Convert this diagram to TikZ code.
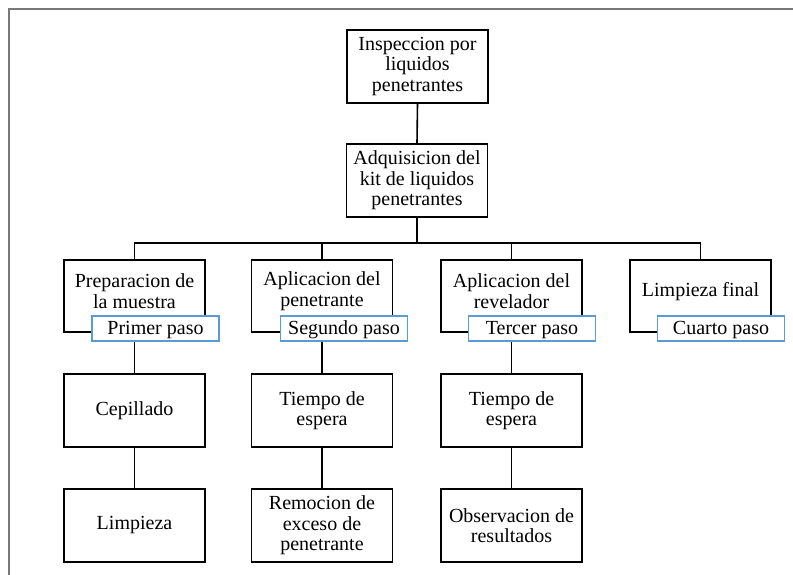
\documentclass[tikz,border=0pt]{standalone}
\usepackage{fontspec}
\setmainfont{Liberation Serif}
\definecolor{labelblue}{RGB}{91,155,213}
\definecolor{framegray}{RGB}{120,120,120}
\begin{document}
\begin{tikzpicture}[x=1pt,y=-1pt,
  txt/.style={font=\fontsize{20}{20.5}\selectfont, align=center, text=black},
  box/.style={draw=black, line width=1.6pt, fill=white, minimum width=141pt, minimum height=73pt, inner sep=0pt, txt},
  tallbox/.style={draw=black, line width=1.6pt, fill=white, minimum width=141pt, minimum height=72pt, inner sep=0pt},
  stepbox/.style={draw=labelblue, line width=1.5pt, fill=white, minimum width=127pt, minimum height=25pt, inner sep=0pt, text height=14pt, text depth=3pt, txt},
  conn/.style={draw=black, line width=1.6pt}
]
\useasboundingbox (0,0) rectangle (793,575);
\fill[white] (0,0) rectangle (793,575);
\draw[framegray, line width=1.5pt] (9,575) -- (9,9) -- (793,9);

% top boxes
\node[box] (top) at (417.5,66.5) {Inspeccion por\\liquidos\\penetrantes};
\node[box] (kit) at (417,180.5) {Adquisicion del\\kit de liquidos\\penetrantes};
\coordinate (bus) at (417,243);

% level 2 boxes
\node[tallbox] (a) at (134.5,296) {};
\node[tallbox] (b) at (322,296) {};
\node[tallbox] (c) at (511.5,296) {};
\node[tallbox] (d) at (700.5,296) {};
\node[txt] (ta) at (134.5,291) {Preparacion de\\la muestra};
\node[txt] (tb) at (322,291) {Aplicacion del\\penetrante};
\node[txt] (tc) at (511.5,291) {Aplicacion del\\revelador};
\node[txt] (td) at (700.5,292) {Limpieza final};

% level 3 and 4
\node[box] (a3) at (134.5,410.5) {Cepillado};
\node[box] (b3) at (322,410.5) {Tiempo de\\espera};
\node[box] (c3) at (511.5,410.5) {Tiempo de\\espera};
\node[box] (a4) at (134.5,525.5) {Limpieza};
\node[box] (b4) at (322,525.5) {Remocion de\\exceso de\\penetrante};
\node[box] (c4) at (511.5,525.5) {Observacion de\\resultados};

% connectors
\draw[conn] (top.south) -- (kit.north);
\draw[conn] (kit.south) -- (bus);
\draw[conn] (a.north) |- (bus) -| (d.north);
\draw[conn] (b.north) |- (bus);
\draw[conn] (c.north) |- (bus);
\draw[conn] (a.south) -- (a3.north);
\draw[conn] (b.south) -- (b3.north);
\draw[conn] (c.south) -- (c3.north);
\draw[conn] (a3.south) -- (a4.north);
\draw[conn] (b3.south) -- (b4.north);
\draw[conn] (c3.south) -- (c4.north);

% step labels
\node[stepbox] (la) at (155.5,328.5) {Primer paso};
\node[stepbox] (lb) at (344,328.5) {Segundo paso};
\node[stepbox] (lc) at (532,328.5) {Tercer paso};
\node[stepbox] (ld) at (721,328.5) {Cuarto paso};
\end{tikzpicture}
\end{document}
